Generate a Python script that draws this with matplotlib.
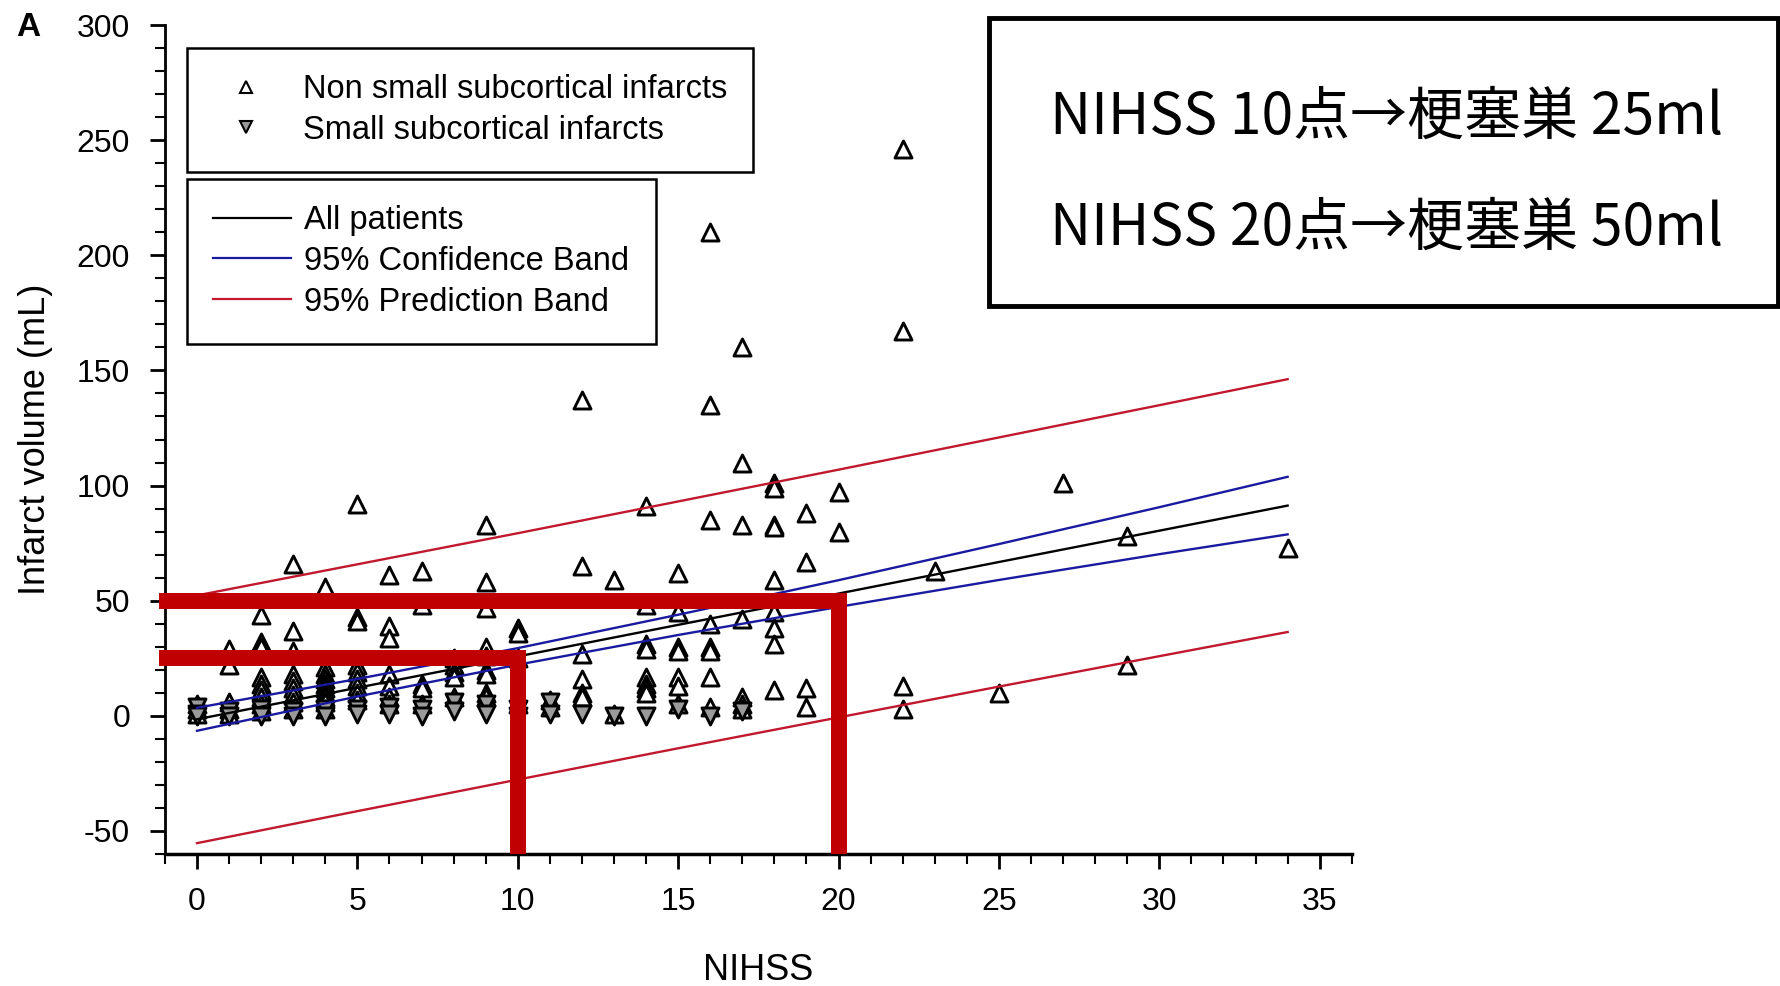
import matplotlib
matplotlib.use("Agg")
import matplotlib.pyplot as plt
from matplotlib.lines import Line2D
from matplotlib.patches import Rectangle
from matplotlib.ticker import MultipleLocator

plt.rcParams['font.family'] = ['Liberation Sans', 'DejaVu Sans']
plt.rcParams['axes.unicode_minus'] = False

# Non small subcortical infarcts (up triangles)
nss_x = [0, 0, 0,
         1, 1, 1, 1, 1,
         2, 2, 2, 2, 2, 2, 2, 2, 2,
         3, 3, 3, 3, 3, 3, 3, 3, 3,
         4, 4, 4, 4, 4, 4, 4, 4, 4, 4,
         5, 5, 5, 5, 5, 5, 5, 5, 5,
         6, 6, 6, 6, 6, 6, 6,
         7, 7, 7, 7, 7,
         8, 8, 8, 8, 8,
         9, 9, 9, 9, 9, 9, 9, 9, 9,
         10, 10, 10, 10,
         11, 11,
         12, 12, 12, 12, 12, 12,
         13, 13,
         14, 14, 14, 14, 14, 14, 14, 14,
         15, 15, 15, 15, 15, 15, 15,
         16, 16, 16, 16, 16, 16, 16, 16,
         17, 17, 17, 17, 17, 17, 17,
         18, 18, 18, 18, 18, 18, 18, 18, 18,
         19, 19, 19, 19,
         20, 20,
         22, 22, 22, 22,
         23, 25, 27, 29, 29, 34]
nss_y = [1, 3, 5,
         29, 22, 6, 3, 1,
         44, 32, 30, 17, 14, 11, 8, 5, 2,
         66, 37, 28, 18, 15, 12, 9, 6, 3,
         56, 21, 18, 16, 14, 12, 10, 8, 6, 3,
         92, 43, 41, 22, 19, 16, 13, 10, 7,
         61, 39, 34, 18, 13, 8, 5,
         63, 48, 14, 12, 5,
         25, 22, 19, 17, 8,
         83, 58, 47, 30, 26, 20, 18, 10, 8,
         38, 36, 25, 5,
         7, 4,
         137, 65, 27, 16, 10, 8,
         59, 1,
         91, 48, 31, 29, 17, 14, 12, 10,
         62, 45, 30, 28, 17, 13, 5,
         210, 135, 85, 40, 30, 28, 17, 4,
         160, 110, 83, 42, 8, 5, 3,
         101, 99, 83, 82, 59, 45, 38, 31, 11,
         88, 67, 12, 4,
         97, 80,
         246, 167, 13, 3,
         63, 10, 101, 78, 22, 73]

# Small subcortical infarcts (down triangles)
ssi_x = [0, 0, 0, 1, 1, 2, 2, 3, 3, 4, 4, 5, 5, 6, 6, 7, 7, 8, 8,
         9, 9, 10, 10, 11, 11, 12, 13, 14, 15, 16, 17]
ssi_y = [4, 1, 0, 2, 0, 3, 0, 2, 0, 3, 0, 3, 1, 4, 1, 3, 0, 6, 2,
         5, 1, 3, 0, 6, 1, 1, 0, 0, 3, 0, 2]

# Regression line and bands, read at a few NIHSS values
fit_x = [0, 5, 10, 15, 20, 25, 30, 34]
fit_y = [-1.5, 12.2, 25.8, 39.5, 53.1, 66.8, 80.4, 91.3]
ci_hi = [3.5, 16.0, 29.4, 43.9, 58.9, 74.6, 90.6, 103.8]
ci_lo = [-6.5, 8.4, 22.2, 35.1, 47.3, 59.0, 70.2, 78.8]
pi_hi = [52.3, 65.8, 79.3, 93.1, 106.9, 120.9, 134.9, 146.2]
pi_lo = [-55.3, -41.4, -27.7, -14.1, -0.7, 12.7, 25.9, 36.4]

# Highlighted readings
mark_nihss = [10, 20]
mark_volume = [25, 50]
box_lines = ["NIHSS 10点→梗塞巣 25ml", "NIHSS 20点→梗塞巣 50ml"]

fig = plt.figure(figsize=(17.81, 9.86), dpi=100)
ax = fig.add_axes([0.0926, 0.1339, 0.6664, 0.8407])

ax.scatter(nss_x, nss_y, marker='^', s=150, facecolors='white',
           edgecolors='black', linewidths=2.1, zorder=3)
ax.scatter(ssi_x, ssi_y, marker='v', s=150, facecolors='#9a9a9a',
           edgecolors='black', linewidths=2.1, zorder=3)

ax.plot(fit_x, fit_y, color='black', lw=1.7, zorder=4)
ax.plot(fit_x, ci_hi, color='#1a1aa0', lw=1.7, zorder=4)
ax.plot(fit_x, ci_lo, color='#1a1aa0', lw=1.7, zorder=4)
ax.plot(fit_x, pi_hi, color='#c0182e', lw=1.7, zorder=4)
ax.plot(fit_x, pi_lo, color='#c0182e', lw=1.7, zorder=4)

# red guide lines
for nx, vol in zip(mark_nihss, mark_volume):
    ax.plot([-1.17, nx, nx], [vol, vol, -60], color='#c00000', lw=11.5,
            solid_joinstyle='miter', solid_capstyle='butt',
            clip_on=False, zorder=6)

ax.set_xlim(-1, 36)
ax.set_ylim(-60, 300)
ax.set_xticks(range(0, 36, 5))
ax.set_yticks(range(-50, 301, 50))
ax.xaxis.set_minor_locator(MultipleLocator(1))
ax.yaxis.set_minor_locator(MultipleLocator(10))
ax.spines['top'].set_visible(False)
ax.spines['right'].set_visible(False)
ax.spines['left'].set_linewidth(2)
ax.spines['bottom'].set_linewidth(2.5)
ax.tick_params(which='major', length=11, width=2, labelsize=23, pad=13)
ax.tick_params(axis='y', which='major', pad=14)
ax.tick_params(which='minor', length=7, width=1.5)

ax.set_xlabel("NIHSS", fontsize=26)
ax.xaxis.set_label_coords(0.5, -0.12)
ax.set_ylabel("Infarct volume (mL)", fontsize=26)
ax.yaxis.set_label_coords(-0.094, 0.5)

fig.text(28 / 1781, 1 - 27 / 986, "A", fontsize=24, fontweight='bold',
         ha='center', va='center')

# legends
pts = [Line2D([], [], ls='none', marker='^', ms=8, mfc='white', mec='black', mew=1.5),
       Line2D([], [], ls='none', marker='v', ms=8, mfc='#9a9a9a', mec='black', mew=1.5)]
leg1 = ax.legend(pts, ["Non small subcortical infarcts", "Small subcortical infarcts"],
                 loc='upper left', bbox_to_anchor=(187 / 1781, 1 - 48 / 986),
                 bbox_transform=fig.transFigure, fontsize=23.5, frameon=True,
                 fancybox=False, edgecolor='black', framealpha=1,
                 borderpad=0.8, labelspacing=0.3, handlelength=2.0,
                 handletextpad=0.75, borderaxespad=0)
leg1.get_frame().set_linewidth(1.8)
ax.add_artist(leg1)

lines = [Line2D([], [], color='black', lw=1.6),
         Line2D([], [], color='#1a1aa0', lw=1.6),
         Line2D([], [], color='#c0182e', lw=1.6)]
leg2 = ax.legend(lines, ["All patients", "95% Confidence Band", "95% Prediction Band"],
                 loc='upper left', bbox_to_anchor=(187 / 1781, 1 - 179 / 986),
                 bbox_transform=fig.transFigure, fontsize=23.5, frameon=True,
                 fancybox=False, edgecolor='black', framealpha=1,
                 borderpad=0.8, labelspacing=0.3, handlelength=2.4,
                 handletextpad=0.4, borderaxespad=0)
leg2.get_frame().set_linewidth(1.8)

# note box
fig.add_artist(Rectangle((989 / 1781, 1 - 306 / 986), 789 / 1781, 288 / 986,
                         transform=fig.transFigure, facecolor='white',
                         edgecolor='black', lw=3.5, zorder=10))
for i, txt in enumerate(box_lines):
    fig.text(1050 / 1781, 1 - (118 + i * 111) / 986, txt, fontsize=41,
             ha='left', va='center', zorder=11,
             family=['Noto Sans CJK JP', 'DejaVu Sans'])

fig.savefig("out.png", dpi=100)
